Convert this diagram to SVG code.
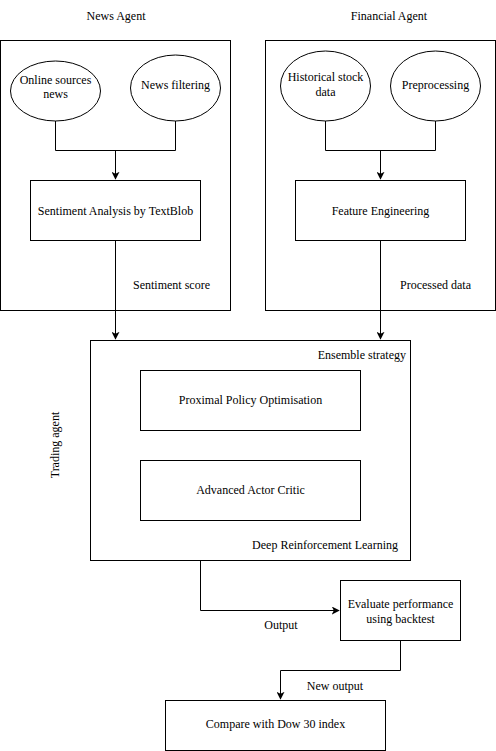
<svg xmlns="http://www.w3.org/2000/svg" width="496" height="751" viewBox="0 0 496 751">
<style>
.box{fill:#fff;stroke:#000;stroke-width:1}
.cont{fill:none;stroke:#000;stroke-width:1}
.t{font-family:"Liberation Serif","Times New Roman",serif;font-size:12px;fill:#000}
.m{text-anchor:middle}
.e{text-anchor:end}
.c{fill:none;stroke:#000;stroke-width:1}
</style>
<defs>
<marker id="arr" viewBox="0 0 10 10" refX="9" refY="5" markerWidth="8" markerHeight="8" markerUnits="userSpaceOnUse" orient="auto">
<path d="M0,0 L10,5 L0,10 L2.5,5 Z" fill="#000"/>
</marker>
</defs>
<rect width="496" height="751" fill="#fff"/>

<g id="news-agent">
<rect class="cont" x="0.5" y="40.5" width="230" height="270"/>
<text class="t m" x="116" y="20">News Agent</text>
</g>
<g id="financial-agent">
<rect class="cont" x="265.5" y="40.5" width="230" height="270"/>
<text class="t m" x="389" y="20">Financial Agent</text>
</g>
<g id="trading-agent">
<rect class="cont" x="90.5" y="340.5" width="320" height="220"/>
<text class="t e" x="406" y="359">Ensemble strategy</text>
<text class="t e" x="398" y="549">Deep Reinforcement Learning</text>
<text class="t m" transform="translate(59,445) rotate(-90)">Trading agent</text>
</g>

<g id="connectors">
<path class="c" d="M55.5,121 V150.5 H175.5 V121"/>
<path class="c" d="M115.5,150.5 V179" marker-end="url(#arr)"/>
<path class="c" d="M115.5,240.5 V339" marker-end="url(#arr)"/>
<path class="c" d="M325.5,121 V150.5 H435.5 V121"/>
<path class="c" d="M380.5,150.5 V179" marker-end="url(#arr)"/>
<path class="c" d="M380.5,240.5 V339" marker-end="url(#arr)"/>
<path class="c" d="M200.5,560.5 V610.5 H339" marker-end="url(#arr)"/>
<path class="c" d="M400.5,640.5 V670.5 H280.5 V699" marker-end="url(#arr)"/>
<text class="t" x="133" y="289">Sentiment score</text>
<text class="t" x="400" y="289">Processed data</text>
<text class="t m" x="281" y="629">Output</text>
<text class="t m" x="335" y="690">New output</text>
</g>

<g id="online-sources">
<ellipse class="box" cx="55.5" cy="91" rx="45" ry="30"/>
<text class="t m" x="55.5" y="84">Online sources</text>
<text class="t m" x="55.5" y="98">news</text>
</g>
<g id="news-filtering">
<ellipse class="box" cx="175.5" cy="88" rx="45" ry="33"/>
<text class="t m" x="175.5" y="89">News filtering</text>
</g>
<g id="sentiment-analysis">
<rect class="box" x="30.5" y="180.5" width="170" height="60"/>
<text class="t m" x="115.5" y="215">Sentiment Analysis by TextBlob</text>
</g>
<g id="historical-stock">
<ellipse class="box" cx="325.5" cy="86" rx="45" ry="35"/>
<text class="t m" x="325.5" y="81">Historical stock</text>
<text class="t m" x="325.5" y="96">data</text>
</g>
<g id="preprocessing">
<ellipse class="box" cx="435.5" cy="86" rx="45" ry="35"/>
<text class="t m" x="435.5" y="89">Preprocessing</text>
</g>
<g id="feature-engineering">
<rect class="box" x="295.5" y="180.5" width="170" height="60"/>
<text class="t m" x="380.5" y="215">Feature Engineering</text>
</g>
<g id="ppo">
<rect class="box" x="140.5" y="370.5" width="220" height="60"/>
<text class="t m" x="250.5" y="404">Proximal Policy Optimisation</text>
</g>
<g id="a2c">
<rect class="box" x="140.5" y="460.5" width="220" height="60"/>
<text class="t m" x="250.5" y="494">Advanced Actor Critic</text>
</g>
<g id="evaluate">
<rect class="box" x="340.5" y="580.5" width="120" height="60"/>
<text class="t m" x="400.5" y="608">Evaluate performance</text>
<text class="t m" x="400.5" y="623">using backtest</text>
</g>
<g id="compare">
<rect class="box" x="165.5" y="700.5" width="220" height="50"/>
<text class="t m" x="275.5" y="728">Compare with Dow 30 index</text>
</g>
</svg>
